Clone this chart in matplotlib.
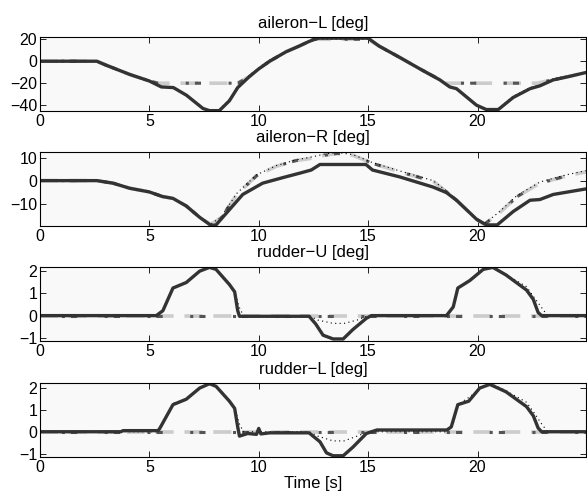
import matplotlib
matplotlib.use('Agg')
import matplotlib.pyplot as plt

plt.rcParams['font.family'] = ['Liberation Sans', 'DejaVu Sans']
plt.rcParams['font.size'] = 11

# aileron-L [deg]
t_al_act = [0, 2.6, 3.0, 4.1, 5.0, 5.55, 6.1, 6.7, 7.45, 7.75, 8.2, 8.66, 9.04, 9.57, 10.0, 10.5,
            11.25, 11.85, 12.3, 12.7, 15.0, 15.5, 16.45, 17.36, 18.28, 18.73, 19.04, 19.95, 20.4,
            20.95, 21.63, 22.4, 22.85, 23.46, 24.2, 24.95]
y_al_act = [0, 0, -3.4, -12, -18, -23.4, -24, -31, -43, -45, -45, -36, -24, -14, -7, 0,
            8.6, 13.8, 18, 21, 21, 13.8, 3.4, -6.9, -17, -23.4, -25, -40, -44,
            -44, -33, -25, -22.4, -17, -13.8, -10.3]
t_al_cmd = [0, 2.6, 3.0, 4.1, 5.0, 5.4, 9.04, 9.57, 10.0, 10.5, 11.25, 11.85, 12.5, 15.0, 15.5,
            16.45, 17.36, 18.3, 18.45, 22.7, 23.46, 24.2, 24.95]
y_al_cmd = [0, 0, -3.4, -12, -18, -20, -20, -14, -7, 0, 8.6, 13.8, 20, 20, 13.8,
            3.4, -6.9, -17, -20, -20, -17, -13.8, -10.3]
t_al_dot = [0, 2.6, 3.0, 4.1, 5.0, 5.55, 6.1, 6.7, 7.45, 7.8, 8.2, 8.66, 9.04, 9.57, 10.0, 10.5,
            11.25, 11.85, 12.5, 15.0, 15.5, 16.45, 17.36, 18.28, 18.73, 19.04, 19.95, 20.4,
            20.95, 21.63, 22.4, 22.85, 23.46, 24.2, 24.95]
y_al_dot = [0, 0, -3, -11.5, -17.5, -23, -24, -31, -43, -45, -44, -35, -23, -13, -6, 1,
            9, 14.5, 20, 20, 14.5, 4, -6.5, -16.5, -23, -25, -40, -44,
            -43, -32, -24, -21.5, -16, -13, -10]

# aileron-R [deg]
t_ar_act = [0, 2.6, 3.34, 4.1, 5.0, 5.6, 6.08, 6.69, 7.3, 7.83, 8.05, 8.66, 9.27, 10.18, 11.1,
            11.9, 12.4, 12.8, 14.9, 15.2, 16.45, 17.97, 18.58, 19.04, 19.95, 20.4, 20.9, 21.63,
            22.4, 22.85, 23.46, 24.95]
y_ar_act = [0, 0, -1.1, -3.3, -4.9, -6.9, -7.7, -11, -15.9, -19.5, -19.2, -12.6, -6, -1.1, 1.3,
            3.3, 4.6, 7, 7, 4.6, 1.6, -2.8, -5.2, -8.5, -16.7, -19.2, -19.2, -13.4,
            -8.5, -8.2, -6, -3.6]
t_ar_cmd = [0, 2.6, 3.34, 4.1, 5.0, 5.6, 6.08, 6.69, 7.3, 7.8, 8.3, 9.0, 9.9, 10.8, 11.7, 12.3,
            13.0, 13.6, 14.3, 14.9, 15.2, 16.45, 17.97, 18.6, 19.04, 19.95, 20.3, 21.0, 21.8,
            22.85, 24.1, 24.95]
y_ar_cmd = [0, 0, -1.1, -3.3, -4.9, -6.9, -7.7, -11, -15.9, -19, -16, -6, 2.1, 6.2, 8.7, 9.5,
            11, 11.8, 11, 8.7, 7.5, 3.8, -0.3, -5, -8.5, -16.7, -19, -14, -7,
            -1.1, 2.1, 3.8]
t_ar_dot = [0, 2.6, 3.34, 4.1, 5.0, 5.6, 6.08, 6.69, 7.3, 7.8, 8.3, 9.0, 9.9, 10.8, 11.7, 12.3,
            13.0, 13.6, 14.3, 14.9, 15.2, 16.45, 17.97, 18.6, 19.04, 19.95, 20.3, 21.0, 21.8,
            22.85, 24.1, 24.95]
y_ar_dot = [0, 0, -1.1, -3.3, -4.9, -6.9, -7.7, -11, -15.9, -19, -15.5, -5.5, 2.5, 6.5, 9, 10,
            11.5, 12.2, 11.3, 9, 7.8, 4.2, 0, -4.6, -8.2, -16.5, -18.8, -13.5, -6.5,
            -0.6, 2.6, 4.3]

# rudder-U [deg]
t_ru_act = [0, 5.32, 5.62, 6.08, 6.69, 7.3, 7.75, 8.05, 8.66, 8.9, 9.04, 9.12, 10.0, 12.3, 12.6,
            12.94, 13.4, 13.86, 14.3, 14.92, 15.15, 18.58, 18.89, 19.1, 19.65, 20.26, 20.7, 21.3,
            22.24, 22.55, 22.77, 22.93, 24.95]
y_ru_act = [0, 0, 0.22, 1.24, 1.49, 2.0, 2.17, 2.08, 1.4, 1.07, 0.22, -0.03, -0.03, -0.03, -0.37,
            -0.88, -1.05, -1.05, -0.63, -0.12, 0, 0, 0.39, 1.24, 1.58, 2.08, 2.17, 1.83,
            1.15, 0.73, 0.14, 0, 0]
t_ru_cmd = [0, 24.95]
y_ru_cmd = [0, 0]
t_ru_dot = [0, 5.32, 5.62, 6.08, 6.69, 7.3, 7.75, 8.05, 8.66, 8.9, 9.1, 9.3, 12.3, 12.7, 13.4,
            13.9, 14.5, 15.0, 18.58, 18.89, 19.1, 19.65, 20.26, 20.7, 21.3, 22.24, 22.6, 22.9,
            23.2, 24.95]
y_ru_dot = [0, 0, 0.22, 1.24, 1.49, 2.0, 2.17, 2.08, 1.4, 1.1, 0.4, 0, 0, -0.2, -0.35,
            -0.35, -0.2, 0, 0, 0.39, 1.24, 1.58, 2.08, 2.17, 1.85, 1.3, 0.8, 0.4,
            0, 0]

# rudder-L [deg]
t_rl_act = [0, 3.7, 3.8, 5.4, 5.47, 6.08, 6.69, 7.3, 7.75, 8.05, 8.66, 8.9, 9.04, 9.12, 9.5, 9.9,
            10.0, 10.1, 10.5, 12.3, 12.8, 13.1, 13.4, 13.86, 14.3, 14.92, 15.4, 18.6, 18.8, 19.1,
            19.6, 20.1, 20.56, 21.3, 22.24, 22.55, 22.77, 22.93, 24.95]
y_rl_act = [0, 0, 0.05, 0.05, 0.14, 1.24, 1.49, 2.0, 2.2, 2.08, 1.4, 1.07, 0.22, -0.2, -0.08, -0.12,
            0.15, -0.1, -0.05, -0.05, -0.46, -0.97, -1.1, -1.1, -0.71, -0.08, 0.08, 0.08, 0.22, 1.24,
            1.4, 2.0, 2.17, 1.83, 1.15, 0.73, 0.17, 0, 0]
t_rl_cmd = [0, 24.95]
y_rl_cmd = [0, 0]
t_rl_dot = [0, 5.4, 5.6, 6.08, 6.69, 7.3, 7.75, 8.05, 8.66, 8.9, 9.1, 9.3, 12.3, 12.7, 13.4,
            13.9, 14.5, 15.0, 18.6, 18.9, 19.1, 19.65, 20.26, 20.7, 21.3, 22.24, 22.6, 22.9,
            23.2, 24.95]
y_rl_dot = [0, 0, 0.3, 1.3, 1.5, 2.0, 2.2, 2.1, 1.45, 1.1, 0.4, 0, 0, -0.2, -0.42,
            -0.42, -0.2, 0, 0, 0.4, 1.25, 1.6, 2.1, 2.17, 1.88, 1.35, 0.85, 0.4,
            0, 0]

titles = ['aileron\u2212L [deg]', 'aileron\u2212R [deg]', 'rudder\u2212U [deg]', 'rudder\u2212L [deg]']
panels = [
    (t_al_act, y_al_act, t_al_cmd, y_al_cmd, t_al_dot, y_al_dot),
    (t_ar_act, y_ar_act, t_ar_cmd, y_ar_cmd, t_ar_dot, y_ar_dot),
    (t_ru_act, y_ru_act, t_ru_cmd, y_ru_cmd, t_ru_dot, y_ru_dot),
    (t_rl_act, y_rl_act, t_rl_cmd, y_rl_cmd, t_rl_dot, y_rl_dot),
]
ylims = [(-45.5, 21.7), (-19.6, 12.4), (-1.14, 2.18), (-1.16, 2.22)]
yticks = [[-40, -20, 0, 20], [-10, 0, 10], [-1, 0, 1, 2], [-1, 0, 1, 2]]
bottoms = [0.774, 0.541, 0.307, 0.071]

fig = plt.figure(figsize=(5.87, 4.92), dpi=100)
for i, (ta, ya, tc, yc, td, yd) in enumerate(panels):
    ax = fig.add_axes([0.068, bottoms[i], 0.930, 0.150])
    ax.set_facecolor('#f9f9f9')
    ax.plot(tc, yc, color='#cccccc', lw=2.6, linestyle=(0, (5, 3)))
    ax.plot(tc, yc, color='#555555', lw=2.2, linestyle=(4, (2, 9, 1, 2)))
    ax.plot(td, yd, color='black', lw=0.8, linestyle=(0, (1, 3)))
    ax.plot(ta, ya, color='#333333', lw=2.4, solid_capstyle='round')
    ax.set_xlim(0, 24.95)
    ax.set_ylim(*ylims[i])
    ax.set_xticks([0, 5, 10, 15, 20])
    ax.set_yticks(yticks[i])
    ax.tick_params(direction='in', top=True, right=True, length=4, width=0.6,
                   labelsize=11.5, pad=2)
    for s in ax.spines.values():
        s.set_linewidth(0.8)
    ax.set_title(titles[i], fontsize=12, pad=7)
    if i == 3:
        ax.set_xlabel('Time [s]', fontsize=12, labelpad=1)

plt.savefig('out.png', dpi=100)
plt.close()
